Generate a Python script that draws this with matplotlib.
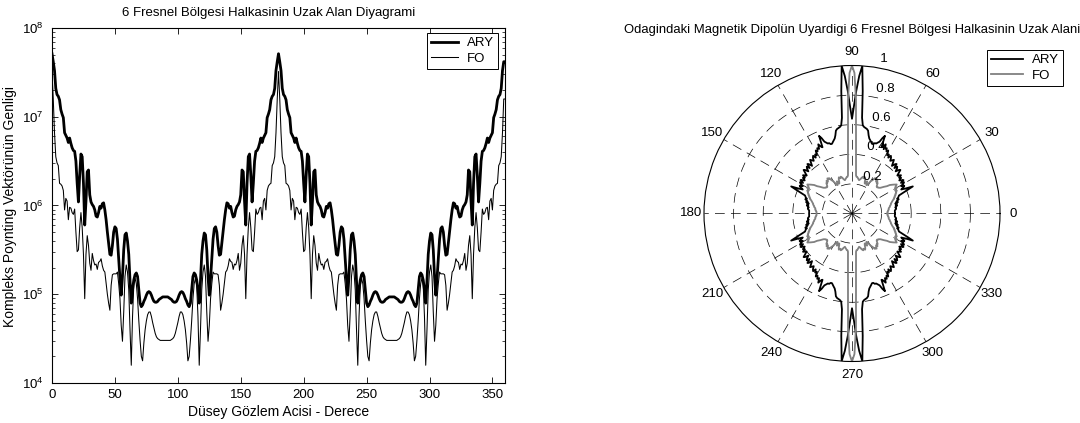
import numpy as np
import matplotlib
matplotlib.use("Agg")
import matplotlib.pyplot as plt
from matplotlib.lines import Line2D
from matplotlib.ticker import LogLocator, NullFormatter

plt.rcParams['font.family'] = ['Liberation Sans', 'DejaVu Sans']
plt.rcParams['font.size'] = 9.5
plt.rcParams['mathtext.fontset'] = 'custom'
plt.rcParams['mathtext.rm'] = 'Liberation Sans'
plt.rcParams['mathtext.default'] = 'regular'

# ---------------- data ----------------
left_title = "6 Fresnel Bölgesi Halkasinin Uzak Alan Diyagrami"
left_xlabel = "Düsey Gözlem Acisi - Derece"
left_ylabel = "Kompleks Poynting Vektörünün Genligi"
polar_title = "Odagindaki Magnetik Dipolün Uyardigi 6 Fresnel Bölgesi Halkasinin Uzak Alani"
series_names = ["ARY", "FO"]

x_ticks = [0, 50, 100, 150, 200, 250, 300, 350]
y_ticks = [1e4, 1e5, 1e6, 1e7, 1e8]
y_tick_labels = [r'$10^{4}$', r'$10^{5}$', r'$10^{6}$', r'$10^{7}$', r'$10^{8}$']

# observation angle, degrees (one sample per degree)
angle_deg = np.arange(0, 361)

# log10 of ARY amplitude, 0..360 deg
ary_log10 = [
    # 0-90
    7.71, 7.62, 7.52, 7.32, 7.25, 7.23, 7.19, 7.08, 7.03, 6.99,
    6.82, 6.79, 6.76, 6.71, 6.76, 6.70, 6.65, 6.62, 6.61, 6.50,
    6.25, 6.04, 6.34, 6.58, 6.55, 6.25, 5.78, 6.05, 6.38, 6.40,
    6.12, 6.04, 6.01, 5.99, 5.95, 5.88, 5.87, 5.92, 5.99, 5.97,
    6.02, 6.03, 5.95, 5.84, 5.70, 5.58, 5.45, 5.44, 5.55, 5.70,
    5.76, 5.74, 5.62, 5.40, 5.18, 4.99, 5.20, 5.50, 5.67, 5.69,
    5.60, 5.45, 5.15, 4.90, 5.05, 5.16, 5.22, 5.24, 5.20, 5.05,
    4.90, 4.86, 4.88, 4.92, 4.95, 4.99, 5.02, 5.03, 5.02, 4.99,
    4.95, 4.92, 4.91, 4.91, 4.92, 4.94, 4.95, 4.96, 4.97, 4.97,
    4.97,
    # 91-180
    4.97, 4.97, 4.96, 4.95, 4.94, 4.92, 4.91, 4.91, 4.92, 4.95,
    4.99, 5.02, 5.03, 5.02, 4.99, 4.95, 4.92, 4.88, 4.86, 4.90,
    5.05, 5.20, 5.24, 5.22, 5.16, 5.05, 4.90, 5.15, 5.45, 5.60,
    5.69, 5.67, 5.50, 5.20, 4.99, 5.18, 5.40, 5.62, 5.74, 5.76,
    5.70, 5.55, 5.44, 5.45, 5.58, 5.70, 5.84, 5.95, 6.03, 6.02,
    5.97, 5.99, 5.92, 5.87, 5.88, 5.95, 5.99, 6.01, 6.04, 6.12,
    6.40, 6.38, 6.05, 5.78, 6.25, 6.55, 6.58, 6.34, 6.04, 6.25,
    6.50, 6.61, 6.62, 6.65, 6.70, 6.76, 6.71, 6.76, 6.79, 6.82,
    6.99, 7.03, 7.08, 7.19, 7.23, 7.25, 7.32, 7.52, 7.62, 7.71,
    # 181-270
    7.62, 7.52, 7.32, 7.25, 7.23, 7.19, 7.08, 7.03, 6.99,
    6.82, 6.79, 6.76, 6.71, 6.76, 6.70, 6.65, 6.62, 6.61, 6.50,
    6.25, 6.04, 6.34, 6.58, 6.55, 6.25, 5.78, 6.05, 6.38, 6.40,
    6.12, 6.04, 6.01, 5.99, 5.95, 5.88, 5.87, 5.92, 5.99, 5.97,
    6.02, 6.03, 5.95, 5.84, 5.70, 5.58, 5.45, 5.44, 5.55, 5.70,
    5.76, 5.74, 5.62, 5.40, 5.18, 4.99, 5.20, 5.50, 5.67, 5.69,
    5.60, 5.45, 5.15, 4.90, 5.05, 5.16, 5.22, 5.24, 5.20, 5.05,
    4.90, 4.86, 4.88, 4.92, 4.95, 4.99, 5.02, 5.03, 5.02, 4.99,
    4.95, 4.92, 4.91, 4.91, 4.92, 4.94, 4.95, 4.96, 4.97, 4.97,
    4.97,
    # 271-360
    4.97, 4.97, 4.96, 4.95, 4.94, 4.92, 4.91, 4.91, 4.92, 4.95,
    4.99, 5.02, 5.03, 5.02, 4.99, 4.95, 4.92, 4.88, 4.86, 4.90,
    5.05, 5.20, 5.24, 5.22, 5.16, 5.05, 4.90, 5.15, 5.45, 5.60,
    5.69, 5.67, 5.50, 5.20, 4.99, 5.18, 5.40, 5.62, 5.74, 5.76,
    5.70, 5.55, 5.44, 5.45, 5.58, 5.70, 5.84, 5.95, 6.03, 6.02,
    5.97, 5.99, 5.92, 5.87, 5.88, 5.95, 5.99, 6.01, 6.04, 6.12,
    6.40, 6.38, 6.05, 5.78, 6.25, 6.55, 6.58, 6.34, 6.04, 6.25,
    6.50, 6.61, 6.62, 6.65, 6.70, 6.76, 6.71, 6.76, 6.79, 6.82,
    6.99, 7.03, 7.08, 7.19, 7.23, 7.25, 7.32, 7.52, 7.62, 7.62,
]

# log10 of FO amplitude, 0..360 deg
fo_log10 = [
    # 0-90
    7.51, 7.20, 6.82, 6.55, 6.48, 6.45, 6.25, 6.24, 6.22, 6.17,
    5.95, 6.08, 6.05, 5.84, 5.98, 5.97, 5.92, 5.90, 5.96, 5.70,
    5.48, 5.50, 5.75, 5.92, 5.75, 5.45, 4.95, 5.45, 5.66, 5.55,
    5.35, 5.27, 5.46, 5.38, 5.33, 5.34, 5.28, 5.36, 5.37, 5.40,
    5.32, 5.27, 5.25, 5.12, 5.00, 4.90, 4.82, 5.10, 5.22, 5.23,
    5.23, 5.23, 5.25, 5.12, 4.95, 4.65, 4.47, 4.80, 5.20, 5.33,
    5.25, 5.05, 4.60, 4.20, 4.75, 5.10, 5.18, 5.12, 4.95, 4.70,
    4.48, 4.30, 4.25, 4.45, 4.60, 4.70, 4.77, 4.80, 4.80, 4.75,
    4.68, 4.62, 4.56, 4.52, 4.50, 4.49, 4.48, 4.48, 4.48, 4.48,
    4.48,
    # 91-180
    4.48, 4.48, 4.48, 4.48, 4.49, 4.50, 4.52, 4.56, 4.62, 4.68,
    4.75, 4.80, 4.80, 4.77, 4.70, 4.60, 4.45, 4.25, 4.30, 4.48,
    4.70, 4.95, 5.12, 5.18, 5.10, 4.75, 4.20, 4.60, 5.05, 5.25,
    5.33, 5.20, 4.80, 4.47, 4.65, 4.95, 5.12, 5.25, 5.23, 5.23,
    5.23, 5.22, 5.10, 4.82, 4.90, 5.00, 5.12, 5.25, 5.27, 5.32,
    5.40, 5.37, 5.36, 5.28, 5.34, 5.33, 5.38, 5.46, 5.27, 5.35,
    5.55, 5.66, 5.45, 4.95, 5.45, 5.75, 5.92, 5.75, 5.50, 5.48,
    5.70, 5.96, 5.90, 5.92, 5.97, 5.98, 5.84, 6.05, 6.08, 5.95,
    6.17, 6.22, 6.24, 6.25, 6.45, 6.48, 6.55, 6.82, 7.20, 7.51,
    # 181-270
    7.20, 6.82, 6.55, 6.48, 6.45, 6.25, 6.24, 6.22, 6.17,
    5.95, 6.08, 6.05, 5.84, 5.98, 5.97, 5.92, 5.90, 5.96, 5.70,
    5.48, 5.50, 5.75, 5.92, 5.75, 5.45, 4.95, 5.45, 5.66, 5.55,
    5.35, 5.27, 5.46, 5.38, 5.33, 5.34, 5.28, 5.36, 5.37, 5.40,
    5.32, 5.27, 5.25, 5.12, 5.00, 4.90, 4.82, 5.10, 5.22, 5.23,
    5.23, 5.23, 5.25, 5.12, 4.95, 4.65, 4.47, 4.80, 5.20, 5.33,
    5.25, 5.05, 4.60, 4.20, 4.75, 5.10, 5.18, 5.12, 4.95, 4.70,
    4.48, 4.30, 4.25, 4.45, 4.60, 4.70, 4.77, 4.80, 4.80, 4.75,
    4.68, 4.62, 4.56, 4.52, 4.50, 4.49, 4.48, 4.48, 4.48, 4.48,
    4.48,
    # 271-360
    4.48, 4.48, 4.48, 4.48, 4.49, 4.50, 4.52, 4.56, 4.62, 4.68,
    4.75, 4.80, 4.80, 4.77, 4.70, 4.60, 4.45, 4.25, 4.30, 4.48,
    4.70, 4.95, 5.12, 5.18, 5.10, 4.75, 4.20, 4.60, 5.05, 5.25,
    5.33, 5.20, 4.80, 4.47, 4.65, 4.95, 5.12, 5.25, 5.23, 5.23,
    5.23, 5.22, 5.10, 4.82, 4.90, 5.00, 5.12, 5.25, 5.27, 5.32,
    5.40, 5.37, 5.36, 5.28, 5.34, 5.33, 5.38, 5.46, 5.27, 5.35,
    5.55, 5.66, 5.45, 4.95, 5.45, 5.75, 5.92, 5.75, 5.50, 5.48,
    5.70, 5.96, 5.90, 5.92, 5.97, 5.98, 5.84, 6.05, 6.08, 5.95,
    6.17, 6.22, 6.24, 6.25, 6.45, 6.48, 6.55, 6.82, 7.20, 7.20,
]

# normalised polar pattern, 0..360 deg
ary_polar = [
    # 0-90
    0.29, 0.29, 0.29, 0.29, 0.29, 0.295, 0.30, 0.30, 0.295, 0.30,
    0.31, 0.30, 0.31, 0.30, 0.32, 0.31, 0.32, 0.33, 0.32, 0.33,
    0.335, 0.34, 0.37, 0.41, 0.45, 0.40, 0.37, 0.39, 0.40, 0.38,
    0.40, 0.41, 0.39, 0.415, 0.40, 0.39, 0.41, 0.40, 0.42, 0.41,
    0.40, 0.42, 0.44, 0.43, 0.41, 0.43, 0.44, 0.42, 0.45, 0.44,
    0.42, 0.44, 0.46, 0.45, 0.44, 0.46, 0.47, 0.45, 0.47, 0.46,
    0.49, 0.48, 0.50, 0.49, 0.52, 0.50, 0.49, 0.57, 0.55, 0.52,
    0.51, 0.50, 0.50, 0.49, 0.49, 0.50, 0.51, 0.52, 0.54, 0.57,
    0.58, 0.585, 0.59, 0.60, 0.65, 0.83, 1.00, 0.93, 0.83, 0.72,
    0.64,
    # 91-180
    0.72, 0.83, 0.93, 1.00, 0.83, 0.65, 0.60, 0.59, 0.585, 0.58,
    0.57, 0.54, 0.52, 0.51, 0.50, 0.49, 0.49, 0.50, 0.50, 0.51,
    0.52, 0.55, 0.57, 0.49, 0.50, 0.52, 0.49, 0.50, 0.48, 0.49,
    0.46, 0.47, 0.45, 0.47, 0.46, 0.44, 0.45, 0.46, 0.44, 0.42,
    0.44, 0.45, 0.42, 0.44, 0.43, 0.41, 0.43, 0.44, 0.42, 0.40,
    0.41, 0.42, 0.40, 0.41, 0.39, 0.40, 0.415, 0.39, 0.41, 0.40,
    0.38, 0.40, 0.39, 0.37, 0.40, 0.45, 0.41, 0.37, 0.34, 0.335,
    0.33, 0.32, 0.33, 0.32, 0.31, 0.32, 0.30, 0.31, 0.30, 0.31,
    0.30, 0.295, 0.30, 0.30, 0.295, 0.29, 0.29, 0.29, 0.29, 0.29,
    # 181-270
    0.29, 0.29, 0.29, 0.29, 0.295, 0.30, 0.30, 0.295, 0.30,
    0.31, 0.30, 0.31, 0.30, 0.32, 0.31, 0.32, 0.33, 0.32, 0.33,
    0.335, 0.34, 0.37, 0.41, 0.45, 0.40, 0.37, 0.39, 0.40, 0.38,
    0.40, 0.41, 0.39, 0.415, 0.40, 0.39, 0.41, 0.40, 0.42, 0.41,
    0.40, 0.42, 0.44, 0.43, 0.41, 0.43, 0.44, 0.42, 0.45, 0.44,
    0.42, 0.44, 0.46, 0.45, 0.44, 0.46, 0.47, 0.45, 0.47, 0.46,
    0.49, 0.48, 0.50, 0.49, 0.52, 0.50, 0.49, 0.57, 0.55, 0.52,
    0.51, 0.50, 0.50, 0.49, 0.49, 0.50, 0.51, 0.52, 0.54, 0.57,
    0.58, 0.585, 0.59, 0.60, 0.65, 0.83, 1.00, 0.93, 0.83, 0.72,
    0.64,
    # 271-360
    0.72, 0.83, 0.93, 1.00, 0.83, 0.65, 0.60, 0.59, 0.585, 0.58,
    0.57, 0.54, 0.52, 0.51, 0.50, 0.49, 0.49, 0.50, 0.50, 0.51,
    0.52, 0.55, 0.57, 0.49, 0.50, 0.52, 0.49, 0.50, 0.48, 0.49,
    0.46, 0.47, 0.45, 0.47, 0.46, 0.44, 0.45, 0.46, 0.44, 0.42,
    0.44, 0.45, 0.42, 0.44, 0.43, 0.41, 0.43, 0.44, 0.42, 0.40,
    0.41, 0.42, 0.40, 0.41, 0.39, 0.40, 0.415, 0.39, 0.41, 0.40,
    0.38, 0.40, 0.39, 0.37, 0.40, 0.45, 0.41, 0.37, 0.34, 0.335,
    0.33, 0.32, 0.33, 0.32, 0.31, 0.32, 0.30, 0.31, 0.30, 0.31,
    0.30, 0.295, 0.30, 0.30, 0.295, 0.29, 0.29, 0.29, 0.29, 0.29,
]

fo_polar = [
    # 0-90
    0.24, 0.24, 0.24, 0.24, 0.245, 0.245, 0.25, 0.25, 0.25, 0.255,
    0.26, 0.26, 0.265, 0.27, 0.27, 0.275, 0.28, 0.285, 0.29, 0.30,
    0.30, 0.31, 0.31, 0.32, 0.32, 0.33, 0.33, 0.34, 0.33, 0.34,
    0.35, 0.34, 0.35, 0.36, 0.35, 0.34, 0.33, 0.32, 0.30, 0.29,
    0.28, 0.27, 0.26, 0.255, 0.25, 0.25, 0.245, 0.245, 0.25, 0.26,
    0.27, 0.265, 0.28, 0.27, 0.28, 0.29, 0.28, 0.285, 0.27, 0.26,
    0.25, 0.235, 0.22, 0.215, 0.22, 0.24, 0.23, 0.22, 0.23, 0.25,
    0.26, 0.255, 0.25, 0.26, 0.255, 0.25, 0.24, 0.235, 0.23, 0.235,
    0.24, 0.245, 0.25, 0.25, 0.26, 0.31, 0.39, 0.52, 0.77, 0.95,
    1.00,
    # 91-180
    0.95, 0.77, 0.52, 0.39, 0.31, 0.26, 0.25, 0.25, 0.245, 0.24,
    0.235, 0.23, 0.235, 0.24, 0.25, 0.255, 0.26, 0.25, 0.255, 0.26,
    0.25, 0.23, 0.22, 0.23, 0.24, 0.22, 0.215, 0.22, 0.235, 0.25,
    0.26, 0.27, 0.285, 0.28, 0.29, 0.28, 0.27, 0.28, 0.265, 0.27,
    0.26, 0.25, 0.245, 0.245, 0.25, 0.25, 0.255, 0.26, 0.27, 0.28,
    0.29, 0.30, 0.32, 0.33, 0.34, 0.35, 0.36, 0.35, 0.34, 0.35,
    0.34, 0.33, 0.34, 0.33, 0.33, 0.32, 0.32, 0.31, 0.31, 0.30,
    0.30, 0.29, 0.285, 0.28, 0.275, 0.27, 0.27, 0.265, 0.26, 0.26,
    0.255, 0.25, 0.25, 0.25, 0.245, 0.245, 0.24, 0.24, 0.24, 0.24,
    # 181-270
    0.24, 0.24, 0.24, 0.245, 0.245, 0.25, 0.25, 0.25, 0.255,
    0.26, 0.26, 0.265, 0.27, 0.27, 0.275, 0.28, 0.285, 0.29, 0.30,
    0.30, 0.31, 0.31, 0.32, 0.32, 0.33, 0.33, 0.34, 0.33, 0.34,
    0.35, 0.34, 0.35, 0.36, 0.35, 0.34, 0.33, 0.32, 0.30, 0.29,
    0.28, 0.27, 0.26, 0.255, 0.25, 0.25, 0.245, 0.245, 0.25, 0.26,
    0.27, 0.265, 0.28, 0.27, 0.28, 0.29, 0.28, 0.285, 0.27, 0.26,
    0.25, 0.235, 0.22, 0.215, 0.22, 0.24, 0.23, 0.22, 0.23, 0.25,
    0.26, 0.255, 0.25, 0.26, 0.255, 0.25, 0.24, 0.235, 0.23, 0.235,
    0.24, 0.245, 0.25, 0.25, 0.26, 0.31, 0.39, 0.52, 0.77, 0.95,
    1.00,
    # 271-360
    0.95, 0.77, 0.52, 0.39, 0.31, 0.26, 0.25, 0.25, 0.245, 0.24,
    0.235, 0.23, 0.235, 0.24, 0.25, 0.255, 0.26, 0.25, 0.255, 0.26,
    0.25, 0.23, 0.22, 0.23, 0.24, 0.22, 0.215, 0.22, 0.235, 0.25,
    0.26, 0.27, 0.285, 0.28, 0.29, 0.28, 0.27, 0.28, 0.265, 0.27,
    0.26, 0.25, 0.245, 0.245, 0.25, 0.25, 0.255, 0.26, 0.27, 0.28,
    0.29, 0.30, 0.32, 0.33, 0.34, 0.35, 0.36, 0.35, 0.34, 0.35,
    0.34, 0.33, 0.34, 0.33, 0.33, 0.32, 0.32, 0.31, 0.31, 0.30,
    0.30, 0.29, 0.285, 0.28, 0.275, 0.27, 0.27, 0.265, 0.26, 0.26,
    0.255, 0.25, 0.25, 0.25, 0.245, 0.245, 0.24, 0.24, 0.24, 0.24,
]

polar_ring_values = [0.2, 0.4, 0.6, 0.8, 1.0]
polar_ring_labels = ['0.2', '0.4', '0.6', '0.8', '1']
polar_angle_labels = [0, 30, 60, 90, 120, 150, 180, 210, 240, 270, 300, 330]

# ---------------- figure ----------------
W, H = 1080, 423
fig = plt.figure(figsize=(W / 100, H / 100), dpi=100)
DASH = (0, (14, 9))

# ----- left: log plot -----
ax = fig.add_axes([52 / W, 1 - 383 / H, 453 / W, 355 / H])
ary_vals = 10 ** np.array(ary_log10)
fo_vals = 10 ** np.array(fo_log10)
ax.plot(angle_deg, ary_vals, color='k', lw=2.0, label=series_names[0])
ax.plot(angle_deg, fo_vals, color='k', lw=0.75, label=series_names[1])
ax.set_yscale('log')
ax.set_xlim(0, 360)
ax.set_ylim(1e4, 1e8)
ax.set_xticks(x_ticks)
ax.set_yticks(y_ticks)
ax.set_yticklabels(y_tick_labels)
ax.yaxis.set_minor_locator(LogLocator(base=10, subs=range(2, 10)))
ax.yaxis.set_minor_formatter(NullFormatter())
ax.tick_params(which='both', direction='in', top=True, right=True, labelsize=9.5)
ax.tick_params(which='major', length=4, width=0.6)
ax.tick_params(which='minor', length=2, width=0.5)
ax.tick_params(axis='y', which='major', pad=6)
ax.tick_params(axis='x', which='major', pad=4)
for s in ax.spines.values():
    s.set_linewidth(0.8)

leg = ax.legend(loc='upper right', bbox_to_anchor=(498 / W, 1 - 33 / H),
                bbox_transform=fig.transFigure, fancybox=False, edgecolor='k',
                framealpha=1, borderaxespad=0, handlelength=2.0, borderpad=0.3,
                labelspacing=0.25, handletextpad=0.7, fontsize=9.5)
leg.get_frame().set_linewidth(0.7)

fig.text(268.5 / W, 1 - 13 / H, left_title, ha='center', va='center', fontsize=9.5)
fig.text(278.5 / W, 1 - 411.5 / H, left_xlabel, ha='center', va='center', fontsize=10)
fig.text(10 / W, 1 - 206 / H, left_ylabel, ha='center', va='center',
         rotation=90, fontsize=10)

# ----- right: polar plot -----
cx, cy, R = 852, 213.5, 148
pax = fig.add_axes([(cx - R) / W, 1 - (cy + R) / H, 2 * R / W, 2 * R / H],
                   projection='polar')
pax.set_ylim(0, 1)
pax.grid(False)
pax.set_xticks([])
pax.set_yticks([])
pax.spines['polar'].set_linewidth(0.8)
pax.spines['polar'].set_color('k')

circ = np.linspace(0, 2 * np.pi, 721)
for r in polar_ring_values[:-1]:
    pax.plot(circ, np.full_like(circ, r), color='k', lw=0.5, ls=DASH)
for a in range(0, 360, 30):
    t = np.deg2rad(a)
    pax.plot([t, t], [0, 1], color='k', lw=0.5, ls=DASH)

th = np.deg2rad(angle_deg)
pax.plot(th, ary_polar, color='k', lw=1.3)
pax.plot(th, fo_polar, color='#808080', lw=1.3)

for a in polar_angle_labels:
    t = np.deg2rad(a)
    pax.text(0.5 + 0.545 * np.cos(t), 0.5 + 0.545 * np.sin(t), str(a),
             transform=pax.transAxes, ha='center', va='center', fontsize=9.5)
c82, s82 = np.cos(np.deg2rad(82)), np.sin(np.deg2rad(82))
for r, lab in zip(polar_ring_values, polar_ring_labels):
    rr = r + 0.01
    pax.text(0.5 + 0.5 * rr * c82, 0.5 + 0.5 * rr * s82, '  ' + lab,
             transform=pax.transAxes, ha='left', va='bottom', fontsize=9.5)

fig.text(cx / W, 1 - 30 / H, polar_title, ha='center', va='center', fontsize=9.4)

handles = [Line2D([], [], color='k', lw=1.3), Line2D([], [], color='#808080', lw=1.3)]
leg2 = fig.legend(handles, series_names, loc='upper left',
                  bbox_to_anchor=(987 / W, 1 - 50 / H), fancybox=False,
                  edgecolor='k', framealpha=1, borderaxespad=0, handlelength=2.4,
                  borderpad=0.3, labelspacing=0.25, handletextpad=0.7, fontsize=9.5)
leg2.get_frame().set_linewidth(0.7)

fig.savefig('out.png', dpi=100)
